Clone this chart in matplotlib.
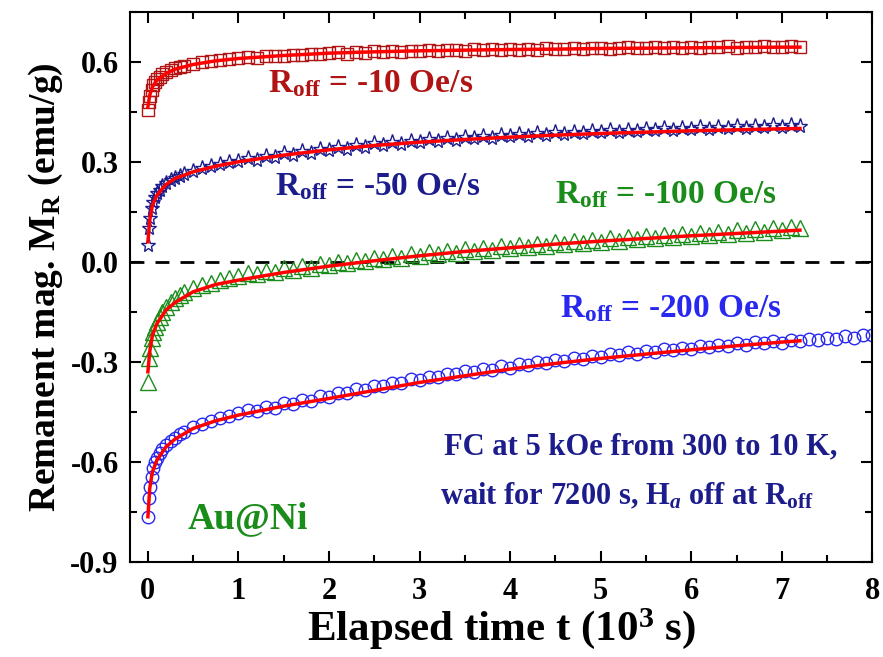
import matplotlib
matplotlib.use("Agg")
import matplotlib.pyplot as plt

# 時間軸 (10^3 s)
t_data = [0, 0.01, 0.02, 0.04, 0.06, 0.08, 0.1, 0.13, 0.16, 0.2, 0.25, 0.3, 0.35, 0.4,
          0.5, 0.6, 0.7, 0.8, 0.9,
          1.0, 1.1, 1.2, 1.3, 1.4, 1.5, 1.6, 1.7, 1.8, 1.9,
          2.0, 2.1, 2.2, 2.3, 2.4, 2.5, 2.6, 2.7, 2.8, 2.9,
          3.0, 3.1, 3.2, 3.3, 3.4, 3.5, 3.6, 3.7, 3.8, 3.9,
          4.0, 4.1, 4.2, 4.3, 4.4, 4.5, 4.6, 4.7, 4.8, 4.9,
          5.0, 5.1, 5.2, 5.3, 5.4, 5.5, 5.6, 5.7, 5.8, 5.9,
          6.0, 6.1, 6.2, 6.3, 6.4, 6.5, 6.6, 6.7, 6.8, 6.9,
          7.0, 7.1, 7.2]
t_extra = [7.3, 7.4, 7.5, 7.6, 7.7, 7.8, 7.9, 8.0]

m_10 = [0.455, 0.48, 0.497, 0.515, 0.53, 0.54, 0.548, 0.555, 0.562, 0.568, 0.575, 0.58, 0.585, 0.588,
        0.594, 0.598, 0.602, 0.606, 0.609,
        0.611, 0.614, 0.612, 0.616, 0.618, 0.617, 0.621, 0.619, 0.623, 0.622,
        0.625, 0.628, 0.624, 0.629, 0.627, 0.631, 0.628, 0.632, 0.630, 0.633,
        0.631, 0.635, 0.632, 0.634, 0.636, 0.633, 0.637, 0.634, 0.638, 0.635,
        0.637, 0.635, 0.639, 0.636, 0.640, 0.637, 0.639, 0.641, 0.638, 0.640,
        0.642, 0.639, 0.641, 0.643, 0.640, 0.642, 0.644, 0.641, 0.643, 0.642,
        0.644, 0.641, 0.645, 0.643, 0.646, 0.642, 0.645, 0.644, 0.646, 0.643,
        0.645, 0.647, 0.645]

m_50 = [0.05, 0.10, 0.13, 0.16, 0.18, 0.195, 0.205, 0.216, 0.226, 0.235, 0.245, 0.252, 0.258, 0.263,
        0.272, 0.28, 0.287, 0.293, 0.299,
        0.303, 0.310, 0.306, 0.318, 0.313, 0.325, 0.320, 0.331, 0.326, 0.337,
        0.334, 0.343, 0.338, 0.349, 0.345, 0.355, 0.350, 0.359, 0.354, 0.363,
        0.360, 0.368, 0.363, 0.371, 0.366, 0.374, 0.370, 0.377, 0.372, 0.380,
        0.376, 0.383, 0.378, 0.386, 0.381, 0.388, 0.383, 0.390, 0.386, 0.392,
        0.388, 0.394, 0.390, 0.396, 0.392, 0.398, 0.394, 0.400, 0.396, 0.401,
        0.398, 0.403, 0.399, 0.405, 0.401, 0.406, 0.402, 0.408, 0.404, 0.409,
        0.405, 0.410, 0.407]

m_100 = [-0.36, -0.29, -0.26, -0.23, -0.21, -0.195, -0.18, -0.165, -0.15, -0.135, -0.12, -0.108, -0.10, -0.092,
         -0.08, -0.07, -0.063, -0.056, -0.05,
         -0.042, -0.035, -0.038, -0.027, -0.030, -0.020, -0.024, -0.014, -0.018, -0.008,
         -0.011, -0.001, -0.005, 0.006, 0.001, 0.012, 0.007, 0.018, 0.012, 0.023,
         0.018, 0.028, 0.022, 0.033, 0.027, 0.038, 0.031, 0.042, 0.036, 0.046,
         0.040, 0.050, 0.044, 0.054, 0.048, 0.058, 0.052, 0.062, 0.056, 0.066,
         0.060, 0.070, 0.063, 0.073, 0.067, 0.077, 0.070, 0.080, 0.074, 0.084,
         0.077, 0.087, 0.080, 0.090, 0.084, 0.094, 0.087, 0.097, 0.090, 0.100,
         0.094, 0.104, 0.100]

m_200 = [-0.765, -0.71, -0.675, -0.645, -0.62, -0.60, -0.59, -0.575, -0.562, -0.55, -0.538, -0.528, -0.518, -0.51,
         -0.497, -0.487, -0.478, -0.47, -0.462,
         -0.455, -0.445, -0.449, -0.437, -0.439, -0.425, -0.428, -0.415, -0.418, -0.404,
         -0.405, -0.395, -0.395, -0.383, -0.386, -0.372, -0.374, -0.363, -0.364, -0.353,
         -0.355, -0.345, -0.346, -0.337, -0.338, -0.329, -0.331, -0.321, -0.324, -0.314,
         -0.318, -0.308, -0.311, -0.301, -0.304, -0.295, -0.298, -0.289, -0.292, -0.283,
         -0.286, -0.278, -0.281, -0.272, -0.276, -0.267, -0.271, -0.262, -0.266, -0.258,
         -0.261, -0.253, -0.257, -0.249, -0.253, -0.245, -0.249, -0.241, -0.245, -0.238,
         -0.243, -0.235, -0.239, -0.232, -0.236, -0.228, -0.232, -0.224, -0.228, -0.221,
         -0.220]

# フィット曲線
t_fit = [0, 0.02, 0.05, 0.1, 0.2, 0.3, 0.5, 0.75, 1, 1.5, 2, 2.5, 3, 3.5, 4, 4.5, 5, 5.5, 6, 6.5, 7, 7.2]
fit_10 = [0.465, 0.50, 0.525, 0.545, 0.565, 0.578, 0.592, 0.603, 0.61, 0.619, 0.626, 0.63, 0.633, 0.635,
          0.637, 0.638, 0.64, 0.641, 0.642, 0.643, 0.644, 0.644]
fit_50 = [0.06, 0.125, 0.17, 0.20, 0.232, 0.25, 0.27, 0.287, 0.30, 0.32, 0.336, 0.349, 0.359, 0.367,
          0.374, 0.38, 0.385, 0.389, 0.393, 0.396, 0.399, 0.40]
fit_100 = [-0.33, -0.27, -0.22, -0.185, -0.145, -0.122, -0.09, -0.068, -0.055, -0.032, -0.013, 0.003,
           0.018, 0.031, 0.042, 0.053, 0.062, 0.07, 0.078, 0.085, 0.092, 0.095]
fit_200 = [-0.765, -0.68, -0.63, -0.595, -0.555, -0.532, -0.50, -0.477, -0.46, -0.433, -0.41, -0.386,
           -0.362, -0.342, -0.322, -0.305, -0.29, -0.277, -0.264, -0.252, -0.241, -0.237]

c_10 = "#b01414"
c_50 = "#1c1c8c"
c_100 = "#1a8c1a"
c_200 = "#2828f0"

plt.rcParams["font.family"] = "Liberation Serif"
plt.rcParams["font.weight"] = "bold"
plt.rcParams["axes.labelweight"] = "bold"
plt.rcParams["mathtext.fontset"] = "custom"
plt.rcParams["mathtext.rm"] = "Liberation Serif:bold"
plt.rcParams["mathtext.it"] = "Liberation Serif:bold:italic"
plt.rcParams["mathtext.bf"] = "Liberation Serif:bold"

fig = plt.figure(figsize=(8.83, 6.57), dpi=100)
ax = fig.add_axes([0.147, 0.145, 0.841, 0.837])

ax.axhline(0, color="black", ls=(0, (5, 4)), lw=2, zorder=1)

ax.plot(t_data, m_10, ls="none", marker="s", ms=9, mfc="none", mec=c_10, mew=1)
ax.plot(t_data, m_50, ls="none", marker="*", ms=11, mfc="none", mec=c_50, mew=1)
ax.plot(t_data, m_100, ls="none", marker="^", ms=11, mfc="none", mec=c_100, mew=1)
ax.plot(t_data + t_extra, m_200, ls="none", marker="o", ms=9, mfc="none", mec=c_200, mew=1)

for f in [fit_10, fit_50, fit_100, fit_200]:
    ax.plot(t_fit, f, color="red", lw=2.5, zorder=5)

ax.set_xlim(-0.2, 8)
ax.set_ylim(-0.9, 0.75)
ax.set_xticks([0, 1, 2, 3, 4, 5, 6, 7, 8])
ax.set_xticks([0.5, 1.5, 2.5, 3.5, 4.5, 5.5, 6.5, 7.5], minor=True)
ax.set_yticks([-0.9, -0.6, -0.3, 0.0, 0.3, 0.6])
ax.set_yticklabels(["-0.9", "-0.6", "-0.3", "0.0", "0.3", "0.6"])
ax.set_yticks([-0.75, -0.45, -0.15, 0.15, 0.45, 0.75], minor=True)
ax.tick_params(which="both", direction="in", top=True, right=True, width=1.5)
ax.tick_params(which="major", length=8, labelsize=22, pad=8)
ax.tick_params(axis="x", which="major", pad=11)
ax.tick_params(which="minor", length=5)
for s in ax.spines.values():
    s.set_linewidth(1.5)

ax.set_xlabel("Elapsed time t (10$^3$ s)", fontsize=31, labelpad=0)
ax.set_ylabel("Remanent mag. M$_\\mathrm{R}$ (emu/g)", fontsize=27, labelpad=4)

ax.text(1.33, 0.51, "R$_\\mathrm{off}$ = -10 Oe/s", color=c_10, fontsize=24)
ax.text(1.40, 0.20, "R$_\\mathrm{off}$ = -50 Oe/s", color=c_50, fontsize=24)
ax.text(4.5, 0.177, "R$_\\mathrm{off}$ = -100 Oe/s", color=c_100, fontsize=24)
ax.text(4.55, -0.165, "R$_\\mathrm{off}$ = -200 Oe/s", color=c_200, fontsize=24)
ax.text(7.61, -0.579, "FC at 5 kOe from 300 to 10 K,", color=c_50, fontsize=22, ha="right")
ax.text(7.35, -0.729, "wait for 7200 s, H$_a$ off at R$_\\mathrm{off}$", color=c_50, fontsize=22, ha="right")
ax.text(0.44, -0.80, "Au@Ni", color=c_100, fontsize=27)

fig.savefig("out.png", dpi=100)
